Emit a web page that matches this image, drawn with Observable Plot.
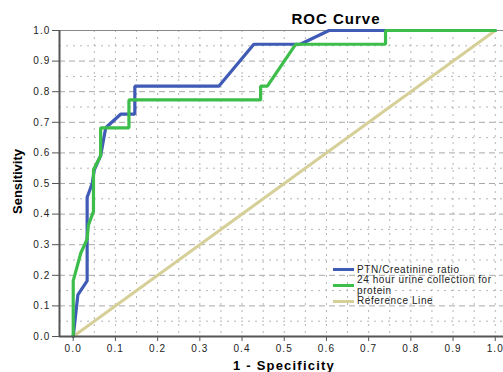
<!DOCTYPE html>
<html><head><meta charset="utf-8">
<script src="https://cdn.jsdelivr.net/npm/d3@7"></script>
<script src="https://cdn.jsdelivr.net/npm/@observablehq/plot@0.6"></script>
<style>
body{margin:0;background:#fff;font-family:"Liberation Sans",Arial,sans-serif;}
#wrap{position:relative;width:503px;height:372px;overflow:hidden;background:#fff;}
#chart svg text{letter-spacing:1.1px;}
.ov{position:absolute;white-space:nowrap;color:#000;}
#title{left:236px;width:200px;top:11px;text-align:center;font-size:15px;line-height:15px;font-weight:bold;letter-spacing:1px;}
#xlab{left:184px;width:200px;top:359px;text-align:center;font-size:13px;line-height:13px;font-weight:bold;letter-spacing:1.2px;}
#ylab{left:-33px;width:100px;top:174.5px;text-align:center;font-size:13px;line-height:13px;font-weight:bold;transform:rotate(-90deg);}
#legend{left:333px;top:264.5px;font-size:10px;line-height:10.5px;color:#222;}
.item{display:flex;align-items:center;}
.sw{width:21px;height:3px;margin-right:3px;flex:none;}
.lt{width:152px;white-space:normal;letter-spacing:0.6px;}
</style></head>
<body>
<div id="wrap">
  <div id="chart"></div>
  <div id="title" class="ov">ROC Curve</div>
  <div id="xlab" class="ov">1 - Specificity</div>
  <div id="ylab" class="ov">Sensitivity</div>
  <div id="legend" class="ov"></div>
</div>
<script>
// Tick labels / grid positions
const xTicks = [0.0, 0.1, 0.2, 0.3, 0.4, 0.5, 0.6, 0.7, 0.8, 0.9, 1.0];
const yTicks = [0.0, 0.1, 0.2, 0.3, 0.4, 0.5, 0.6, 0.7, 0.8, 0.9, 1.0];
const gridMajor = [0.1, 0.2, 0.3, 0.4, 0.5, 0.6, 0.7, 0.8, 0.9];
const gridMinor = [0.05, 0.15, 0.25, 0.35, 0.45, 0.55, 0.65, 0.75, 0.85, 0.95];
const xGrid = [0.05, 0.1, 0.15, 0.2, 0.25, 0.3, 0.35, 0.4, 0.45, 0.5, 0.55, 0.6, 0.65, 0.7, 0.75, 0.8, 0.85, 0.9, 0.95, 1.0];
const xDomain = [-0.0325, 1.0195];
const yDomain = [0, 1];

// Series
const seriesNames = ["PTN/Creatinine ratio", "24 hour urine collection for protein", "Reference Line"];
const seriesColors = ["#3F5BB5", "#3DBE4B", "#D6CF98"];

const fprPTN = [0, 0.011, 0.033, 0.033, 0.045, 0.05, 0.065, 0.077, 0.113, 0.146, 0.146, 0.345, 0.428, 0.538, 0.606, 1.0];
const tprPTN = [0, 0.136, 0.182, 0.455, 0.5, 0.545, 0.591, 0.682, 0.727, 0.727, 0.818, 0.818, 0.955, 0.955, 1.0, 1.0];

const fpr24h = [0, 0, 0.018, 0.033, 0.036, 0.048, 0.048, 0.065, 0.065, 0.132, 0.132, 0.444, 0.444, 0.46, 0.527, 0.74, 0.74, 1.0];
const tpr24h = [0, 0.182, 0.273, 0.318, 0.364, 0.409, 0.545, 0.591, 0.682, 0.682, 0.773, 0.773, 0.818, 0.818, 0.955, 0.955, 1.0, 1.0];

const fprRef = [0, 1];
const tprRef = [0, 1];

const toPts = (xs, ys) => xs.map((x, i) => ({x, y: ys[i]}));
const ptn = toPts(fprPTN, tprPTN);
const h24 = toPts(fpr24h, tpr24h);
const ref = toPts(fprRef, tprRef);

const chart = Plot.plot({
  width: 503, height: 372,
  marginTop: 30, marginBottom: 36, marginLeft: 59, marginRight: 0,
  x: {domain: xDomain},
  y: {domain: yDomain},
  style: {fontFamily: "'Liberation Sans', Arial, sans-serif", fontSize: "10px", background: "#fff", color: "#222", overflow: "visible"},
  marks: [
    Plot.ruleY(gridMinor, {stroke: "#b5b5b5", strokeDasharray: "2,5", strokeWidth: 1}),
    Plot.ruleY(gridMajor, {stroke: "#a8a8a8", strokeDasharray: "6,4", strokeWidth: 1}),
    Plot.ruleX(xGrid, {stroke: "#b5b5b5", strokeDasharray: "2,5", strokeWidth: 1}),
    Plot.ruleY([yDomain[1]], {stroke: "#8a8a8a", strokeWidth: 1.2}),
    Plot.line(ref, {x: "x", y: "y", stroke: seriesColors[2], strokeWidth: 3}),
    Plot.line(ptn, {x: "x", y: "y", stroke: seriesColors[0], strokeWidth: 3.2, strokeLinejoin: "miter"}),
    Plot.line(h24, {x: "x", y: "y", stroke: seriesColors[1], strokeWidth: 3.2, strokeLinejoin: "miter"}),
    Plot.axisX(xTicks, {tickSize: 5, tickPadding: 3, tickFormat: ".1f", label: null, stroke: "#555"}),
    Plot.axisY(yTicks, {tickSize: 7, tickPadding: 2, tickFormat: ".1f", label: null, stroke: "#555"}),
    Plot.ruleY([yDomain[0]], {stroke: "#555", strokeWidth: 2}),
    Plot.ruleX([xDomain[0]], {stroke: "#555", strokeWidth: 2})
  ]
});
document.getElementById("chart").appendChild(chart);

const legend = document.getElementById("legend");
seriesNames.forEach((name, i) => {
  const item = document.createElement("div");
  item.className = "item";
  const sw = document.createElement("div");
  sw.className = "sw";
  sw.style.background = seriesColors[i];
  const lt = document.createElement("div");
  lt.className = "lt";
  lt.textContent = name;
  item.appendChild(sw); item.appendChild(lt);
  legend.appendChild(item);
});
</script>
</body></html>
